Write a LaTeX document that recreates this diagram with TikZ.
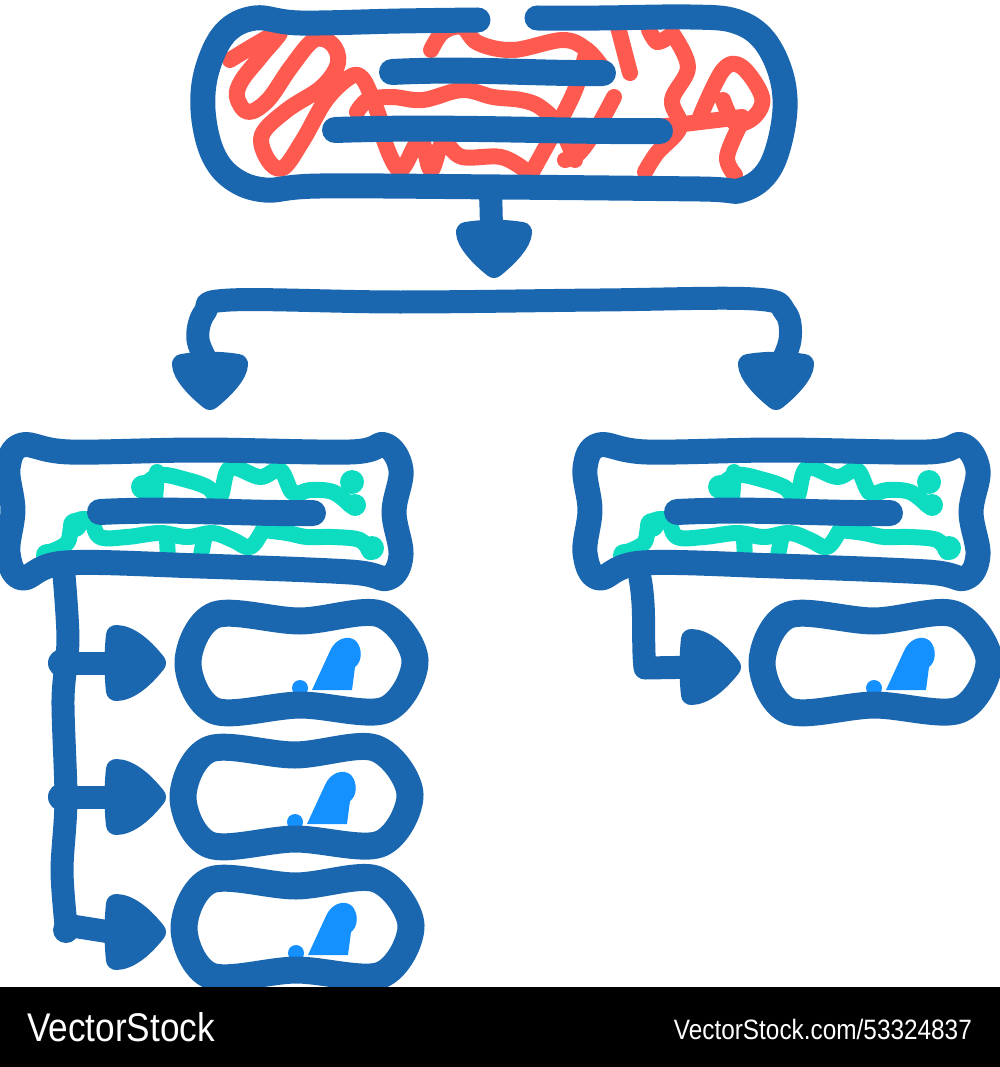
\documentclass[tikz,border=0pt]{standalone}
\usepackage{fontspec}
\setmainfont{Liberation Sans}
\definecolor{dblue}{HTML}{1A67B0}
\definecolor{rred}{HTML}{FF5A50}
\definecolor{tealc}{HTML}{0DDCC0}
\definecolor{bblue}{HTML}{1490FF}
\tikzset{
  frame/.style={draw=dblue, line width=25, line cap=round, line join=round},
  sframe/.style={draw=dblue, line width=27, line cap=round, line join=round},
  bar/.style={draw=dblue, line width=26, line cap=round},
  scrib/.style={draw=rred, line width=16, line cap=round, line join=round},
  tscrib/.style={draw=tealc, line width=16, line cap=round, line join=round},
  conn/.style={draw=dblue, line width=23, line cap=round, line join=round},
  headfill/.style={fill=dblue, draw=dblue, line width=20, line join=round},
  rhead/.pic={\path[headfill] (-4,0) .. controls (-15,-14) and (-30,-28) .. (-44,-28) .. controls (-46,-10) and (-46,10) .. (-44,28) .. controls (-30,28) and (-15,14) .. (-4,0) -- cycle;},
  dhead/.pic={\path[headfill] (0,-4) .. controls (-14,-15) and (-28,-30) .. (-28,-40) .. controls (-10,-43) and (10,-43) .. (28,-40) .. controls (28,-30) and (14,-15) .. (0,-4) -- cycle;},
  chk/.pic={\fill[bblue] (10,27) -- (28,-12) .. controls (33,-24) and (46,-29) .. (54,-22) .. controls (61,-14) and (60,-1) .. (53,4) -- (50,27) -- cycle;
            \fill[bblue] (-2,25) circle (8);},
  sbox/.pic={\draw[sframe] plot[smooth cycle, tension=0.55] coordinates {(-87,-48) (-2,-42) (78,-49) (113,-3) (83,47) (-2,42) (-87,48) (-114,0)};},
  mbox/.pic={
    \draw[tscrib] plot[smooth, tension=0.6] coordinates {(143,487) (160,475) (187,480) (207,487) (220,497) (230,468) (260,477) (280,470) (293,493) (310,490) (333,492) (350,505)};
    \draw[tscrib] (157,472) -- (155,500);
    \fill[tealc] (143,487) circle (12) (352,482) circle (12) (355,505) circle (11);
    \draw[tscrib] plot[smooth, tension=0.6] coordinates {(47,553) (67,543) (73,523) (90,520) (100,537) (127,537) (160,533) (187,537) (213,533) (233,540) (250,547) (263,530) (272,513)};
    \draw[tscrib] plot[smooth, tension=0.6] coordinates {(263,530) (287,533) (307,537) (333,537) (360,540) (370,552)};
    \draw[tscrib] (167,538) -- (168,560) (205,535) -- (200,560);
    \fill[tealc] (47,555) circle (11) (75,525) circle (12) (372,548) circle (12);
    \draw[bar] (100,512) .. controls (180,508) and (240,514) .. (313,513);
    \draw[frame] plot[smooth cycle, tension=0.6] coordinates {(22,445) (70,452) (200,450) (350,452) (385,445) (401,470) (394,512) (401,555) (388,578) (350,572) (200,566) (65,563) (22,578) (8,553) (13,510) (8,468)};
  }
}
\begin{document}
\begin{tikzpicture}[x=1pt,y=-1pt]
\useasboundingbox (0,0) rectangle (1000,1067);

% red scribbles in top box
\draw[scrib] plot[smooth, tension=0.6] coordinates {(230,60) (279,32) (262,55) (242,80) (237,97) (248,112) (268,100) (291,67) (314,40) (332,44) (338,63) (322,87) (287,110) (262,135) (268,160) (283,168) (303,140) (326,100) (350,77) (362,78) (373,100) (382,125)};
\draw[scrib] plot[smooth, tension=0.6] coordinates {(357,112) (368,100) (392,97) (423,100) (462,90) (493,97) (521,100) (540,107) (560,127) (575,160)};
\draw[scrib] plot[smooth, tension=0.6] coordinates {(431,50) (443,32) (462,27) (478,43) (513,50) (563,40) (587,50) (602,67)};
\draw[scrib] plot[smooth, tension=0.6] coordinates {(587,50) (575,90) (555,130) (532,172)};
\draw[scrib] plot[smooth, tension=0.6] coordinates {(384,140) (400,170) (420,140) (431,170) (443,143) (462,157) (501,157) (525,170)};
\draw[scrib] plot[smooth, tension=0.6] coordinates {(614,97) (597,128) (579,153) (565,160)};
\draw[scrib] plot[smooth, tension=0.6] coordinates {(672,33) (688,67) (672,100) (680,127) (657,153) (645,172)};
\draw[scrib] (618,27) -- (630,73);
\draw[scrib] plot[smooth, tension=0.6] coordinates {(649,30) (657,42) (668,37)};
\draw[scrib] plot[smooth, tension=0.6] coordinates {(600,132) (657,127) (742,117)};
\draw[scrib] plot[smooth, tension=0.6] coordinates {(700,117) (723,70) (742,67) (762,97) (754,117) (735,123) (723,100)};
\draw[scrib] plot[smooth, tension=0.6] coordinates {(740,125) (727,157) (735,175)};

% top box
\draw[bar] (392,72) .. controls (470,68) and (540,74) .. (603,73);
\draw[bar] (335,130) .. controls (450,126) and (560,132) .. (660,131);
\draw[frame] plot[smooth, tension=0.6] coordinates {(478,20) (400,21) (300,23) (255,18) (225,33) (207,70) (203,110) (212,152) (232,178) (265,190) (320,186) (500,187) (700,189) (742,190) (770,168) (784,120) (782,78) (764,40) (735,21) (690,17) (600,18) (537,18)};

% mid boxes
\pic at (0,0) {mbox};
\pic at (577,0) {mbox};

% connectors
\coordinate (topout) at (490,190);
\coordinate (topin) at (494,272);
\coordinate (ltip) at (210,404);
\coordinate (rtip) at (776,404);
\draw[conn] (topout) .. controls (492,210) and (490,225) .. ([yshift=28]topin);
\pic at (topin) {dhead};
\draw[conn] plot[smooth, tension=0.6] coordinates {(212,370) (198,340) (205,312) (230,300) (400,302) (600,300) (755,299) (785,312) (790,340) (778,370)};
\pic at (ltip) {dhead};
\pic at (rtip) {dhead};

% small boxes
\coordinate (b1) at (302,663);
\coordinate (b2) at (297,797);
\coordinate (b3) at (298,928);
\coordinate (b4) at (876,663);
\foreach \b in {b1,b2,b3,b4}{\pic at (\b) {chk}; \pic at (\b) {sbox};}

% left stem
\coordinate (lstem) at (64,575);
\coordinate (a1) at (160,663);
\coordinate (a2) at (160,797);
\coordinate (a3) at (160,932);
\draw[conn] plot[smooth, tension=0.5] coordinates {(lstem) (68,640) (63,700) (66,800) (62,870) (66,925)} -- (110,932);
\draw[conn] (62,663) -- ([xshift=-30]a1);
\draw[conn] (62,797) -- ([xshift=-30]a2);
\fill[dblue] (62,663) circle (14) (62,797) circle (14) (66,930) circle (13);
\pic at (a1) {rhead};
\pic at (a2) {rhead};
\pic at (a3) {rhead};

% right stem
\coordinate (rstem) at (640,578);
\coordinate (a4) at (735,667);
\draw[conn] (rstem) .. controls (646,610) and (642,640) .. (645,668) -- ([xshift=-30]a4);
\pic at (a4) {rhead};

% watermark band
\fill[black] (0,987) rectangle (1000,1067);
\node[anchor=west, text=white, inner sep=0, xscale=0.88] (wm1) at (27,1027) {\fontsize{40}{40}\selectfont VectorStock};
\node[anchor=east, text=white, inner sep=0, xscale=0.87] (wm2) at (972,1029) {\fontsize{28}{28}\selectfont VectorStock.com/53324837};
\end{tikzpicture}
\end{document}
